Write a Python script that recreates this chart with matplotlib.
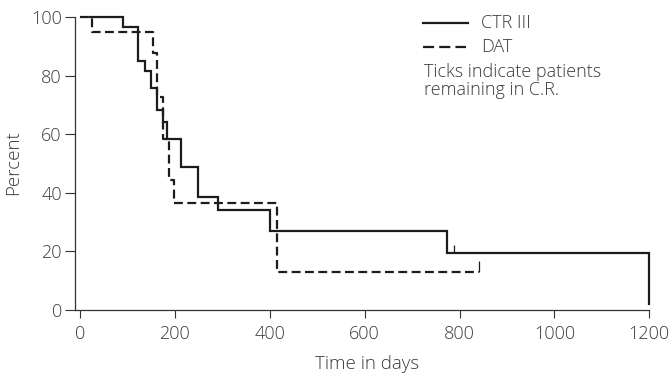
import numpy as np
import matplotlib.pyplot as plt
from matplotlib.lines import Line2D

plt.rcParams['font.family'] = ['Open Sans', 'DejaVu Sans']

# Kaplan-Meier style remission curves (day, percent still in C.R.)
ctr_days = [22, 91, 122, 138, 150, 162, 176, 183, 213, 249, 290, 400, 774, 1200]
ctr_pct = [100, 96.5, 85.0, 81.6, 75.7, 68.3, 64.3, 58.4, 48.9, 38.7, 34.1, 27.0, 19.3, 2.0]

dat_days = [0, 26, 154, 162, 176, 187, 199, 415, 840]
dat_pct = [100, 95.0, 87.6, 72.8, 58.4, 44.4, 36.4, 13.1, 13.1]

# censored patients (short upward ticks)
ctr_cens_days = [789]
ctr_cens_pct = [19.3]
dat_cens_days = [840]
dat_cens_pct = [13.1]

x_ticks = [0, 200, 400, 600, 800, 1000, 1200]
y_ticks = [0, 20, 40, 60, 80, 100]

ink = '#1c1c1c'
grey = '#3a3a3a'
fs = 13

fig = plt.figure(figsize=(6.72, 3.75), dpi=100)
ax = fig.add_axes([75 / 672, 1 - 310 / 375, (649.3 - 75) / 672, (310 - 17) / 375])

ax.step(ctr_days, ctr_pct, where='post', color=ink, lw=1.6, clip_on=False,
        solid_joinstyle='miter')
ax.step(dat_days, dat_pct, where='post', color=ink, lw=1.6, clip_on=False,
        linestyle=(0, (4, 2)))

tick_h = 3.0
ax.vlines(ctr_cens_days, ctr_cens_pct, np.array(ctr_cens_pct) + tick_h,
          color=ink, lw=0.9)
ax.vlines(dat_cens_days, dat_cens_pct, np.array(dat_cens_pct) + tick_h + 0.5,
          color=ink, lw=0.9)

ax.set_xlim(-10.5, 1200)
ax.set_ylim(0, 100)
ax.set_xticks(x_ticks)
ax.set_yticks(y_ticks)

for side in ('top', 'right'):
    ax.spines[side].set_visible(False)
for side in ('left', 'bottom'):
    ax.spines[side].set_color('#333333')
    ax.spines[side].set_linewidth(0.9)

ax.tick_params(axis='y', direction='out', length=7, width=0.8, pad=2.5,
               colors='#333333', labelcolor=grey, labelsize=fs)
ax.tick_params(axis='x', direction='out', length=6, width=0.8, pad=5,
               colors='#333333', labelcolor=grey, labelsize=fs)
for lab in ax.get_xticklabels() + ax.get_yticklabels():
    lab.set_fontweight('light')

fig.text(367 / 672, 1 - 364 / 375, 'Time in days', ha='center', va='center',
         fontsize=fs + 0.5, color=grey, fontweight='light')
fig.text(13 / 672, 1 - 163 / 375, 'Percent', ha='center', va='center',
         rotation=90, fontsize=fs + 0.5, color=grey, fontweight='light')

# legend drawn by hand in figure pixels
def fx(px):
    return px / 672

def fy(py):
    return 1 - py / 375

fig.add_artist(Line2D([fx(423), fx(468)], [fy(23), fy(23)], color=ink, lw=1.6))
fig.add_artist(Line2D([fx(423), fx(466)], [fy(46.5), fy(46.5)], color=ink, lw=1.6,
                      linestyle=(0, (5, 2.3))))
fig.text(fx(481), fy(23), 'CTR III', ha='left', va='center', fontsize=fs,
         color=grey, fontweight='light')
fig.text(fx(481), fy(46.5), 'DAT', ha='left', va='center', fontsize=fs,
         color=grey, fontweight='light')
fig.text(fx(424), fy(72), 'Ticks indicate patients', ha='left', va='center',
         fontsize=fs, color=grey, fontweight='light')
fig.text(fx(424), fy(90), 'remaining in C.R.', ha='left', va='center',
         fontsize=fs, color=grey, fontweight='light')

fig.savefig('out.png', dpi=100)
